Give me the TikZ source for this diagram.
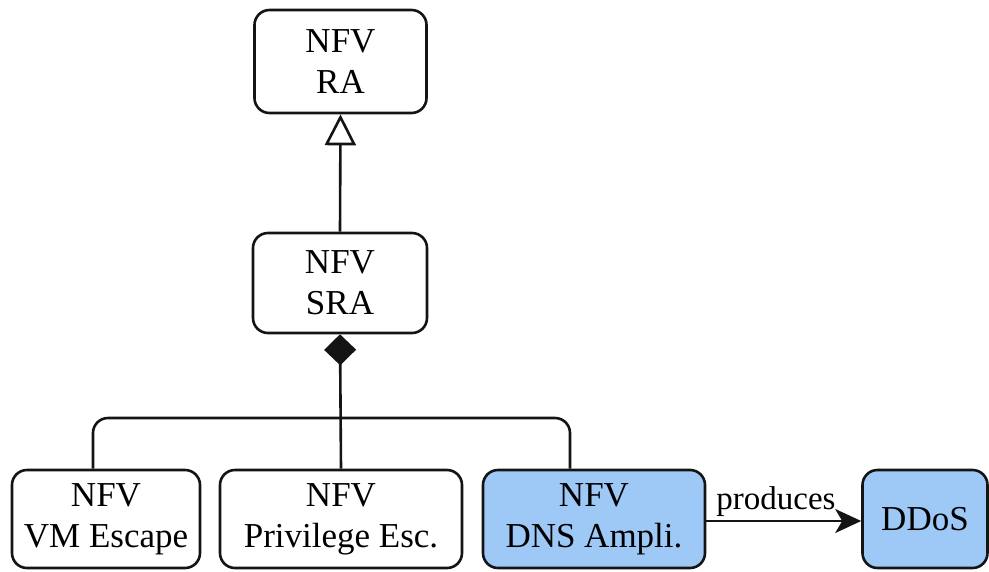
\documentclass[tikz,border=0pt]{standalone}
\usepackage{fontspec}
\setmainfont{Liberation Serif}
\usetikzlibrary{arrows.meta,positioning}
\definecolor{ink}{RGB}{20,20,20}
\definecolor{threatfill}{RGB}{158,201,247}
\tikzset{
  cls/.style={
    draw=ink, line width=2.6pt, rounded corners=15pt, fill=#1,
    minimum height=100pt, inner sep=0pt, align=center,
    font=\fontsize{35}{41}\selectfont,
  },
  cls/.default=white,
  conn/.style={line width=2.6pt, draw=ink},
  gen/.style={conn, -{Triangle[open, length=31pt, width=31pt]}},
  comp/.style={conn, {Diamond[fill=ink, length=31pt, width=32pt]}-},
  prod/.style={conn, -{Stealth[length=26pt, width=24pt, inset=7pt]}},
}
\begin{document}
\begin{tikzpicture}[x=1pt,y=-1pt]
  \useasboundingbox (0,0) rectangle (989,571);

  % Class nodes
  \node[cls, minimum width=172pt, minimum height=103pt] (ra) at (340.5,61.5) {NFV\\RA};
  \node[cls, minimum width=174pt] (sra) at (340,283) {NFV\\SRA};
  \node[cls, minimum width=188pt, minimum height=98pt] (vm) at (106,519) {NFV\\VM Escape};
  \node[cls, minimum width=242pt, minimum height=98pt] (priv) at (341,519) {NFV\\Privilege Esc.};
  \node[cls=threatfill, minimum width=222pt, minimum height=98pt] (dns) at (594,519) {NFV\\DNS Ampli.};
  \node[cls=threatfill, minimum width=125pt, minimum height=98pt] (ddos) at (925,519) {DDoS};

  % Generalisation
  \draw[gen] (sra.north) -- (ra.south);

  % Composition bus
  \coordinate (bus) at (340,418);
  \draw[comp] (sra.south) -- (priv.north);
  \draw[conn, rounded corners=15pt] ([xshift=-13pt]vm.north) |- (bus) -| ([xshift=-24pt]dns.north);

  % Produces
  \draw[prod] (dns.east |- 0,521) -- node[above, pos=0.45, font=\fontsize{33}{38}\selectfont, inner sep=3pt] {produces} (ddos.west |- 0,521);
\end{tikzpicture}
\end{document}
